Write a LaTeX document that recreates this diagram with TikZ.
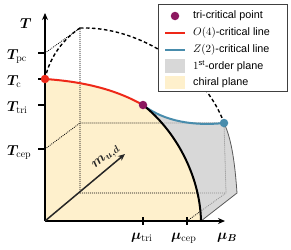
\documentclass[tikz,border=0pt]{standalone}
\usepackage{amsmath,amssymb,bm}
\usepackage{fontspec}
\newfontfamily\legendfont{Liberation Sans}
\usepackage{tikz}
\usetikzlibrary{arrows.meta, positioning, calc}
\definecolor{tricol}{RGB}{140,24,96}
\definecolor{ofourcol}{RGB}{238,40,24}
\definecolor{ztwocol}{RGB}{72,140,172}
\definecolor{firstcol}{RGB}{200,200,200}
\definecolor{chiralcol}{RGB}{254,240,204}
\tikzstyle{axis} = [line width=1.4pt, -{Stealth[length=7pt,width=6pt]}]
\tikzstyle{tick} = [line width=1.2pt]
\tikzstyle{guide} = [dash pattern=on 0.9pt off 1.1pt, line width=0.8pt]
\tikzstyle{crit} = [line width=2pt]
\tikzstyle{dashline} = [dash pattern=on 3.5pt off 2.5pt, line width=1.4pt]
\tikzstyle{edgeline} = [line width=0.8pt, draw=black!65]
\tikzstyle{dot} = [circle, inner sep=0pt, minimum size=8.5pt]
\tikzstyle{tlabel} = [anchor=base west, inner sep=0pt, font=\Large]
\tikzstyle{mulabel} = [anchor=base west, inner sep=0pt, font=\Large]
\tikzstyle{legtext} = [anchor=west, inner sep=0pt, font=\legendfont\fontsize{10.8}{12}\selectfont]
\tikzstyle{legbox} = [minimum width=20pt, minimum height=13.5pt, inner sep=0pt]

\begin{document}
\begin{tikzpicture}[x=1pt, y=-1pt]
\useasboundingbox (0,0) rectangle (291,249);
% points of the diagram
\coordinate (O) at (45,221);
\coordinate (Ttop) at (45,13);
\coordinate (Mend) at (225,221);
\coordinate (Tc) at (45,79);
\coordinate (tri) at (143,105);
\coordinate (cep) at (201,221);
\coordinate (zend) at (224,123);
\coordinate (edge) at (237,193);
\coordinate (btop) at (80,28);
\coordinate (bbot) at (80,193);
\coordinate (bcep) at (80,123);
\coordinate (bend) at (226,193);
\coordinate (Tpc) at (45,53);
\coordinate (Ttri) at (45,105);
\coordinate (Tcep) at (45,149);
\coordinate (mutri) at (143,221);
\coordinate (mucep) at (187,221);
\coordinate (mtip) at (125,154);

% planes
\fill [chiralcol] (O) -- (Tc) .. controls (90,82) and (120,92) .. (tri)
      .. controls (175,130) and (200,175) .. (cep) -- cycle;
\draw [guide] (Tpc) -- (btop) -- (bbot) -- (bend);
\draw [guide] (Tcep) -- (bcep) -- (zend) -- (bend);
\draw [guide] (mucep) -- (bend);
\fill [firstcol, fill opacity=0.7] (tri) .. controls (165,122) and (195,126) .. (zend)
      .. controls (232,140) and (235,165) .. (edge) -- (cep)
      .. controls (200,175) and (175,130) .. (tri);
\draw [edgeline] (zend) .. controls (232,140) and (235,165) .. (edge) -- (cep);

% crossover lines
\draw [dashline] (Tc) .. controls (50,55) and (65,38) .. (btop);
\draw [dashline] (btop) .. controls (140,26) and (205,70) .. (zend);

% critical lines
\draw [crit, ofourcol] (Tc) .. controls (90,82) and (120,92) .. (tri);
\draw [crit, ztwocol] (tri) .. controls (165,122) and (195,126) .. (zend);
\draw [crit, black] (tri) .. controls (175,130) and (200,175) .. (cep);

% axes
\draw [axis] (O) -- (Ttop);
\draw [axis] (O) -- (Mend);
\foreach \t in {Tpc, Tc, Ttri, Tcep}
    \draw [tick] (\t) -- ++(-7,0);
\foreach \m in {mutri, mucep}
    \draw [tick] ($(\m)+(0,-4)$) -- ++(0,8);
\draw [line width=1.5pt, black!85, -{Stealth[length=7pt,width=6pt]}] (O) -- node[sloped, above=3pt, pos=0.84, inner sep=0pt, font=\Large] (mlab) {$\boldsymbol{m_{u,d}}$} (mtip);

% points
\node (tcdot) [dot, fill=ofourcol] at (Tc) {};
\node (tridot) [dot, fill=tricol] at (tri) {};
\node (cepdot) [dot, fill=ztwocol] at (zend) {};

% labels
\node (Tlab) [tlabel] at (20,28) {$\boldsymbol{T}$};
\node (Tpclab) [tlabel] at (7,59) {$\boldsymbol{T}_{\mathrm{pc}}$};
\node (Tclab) [tlabel] at (7,85) {$\boldsymbol{T}_{\mathrm{c}}$};
\node (Ttrilab) [tlabel] at (7,111) {$\boldsymbol{T}_{\mathrm{tri}}$};
\node (Tceplab) [tlabel] at (7,155) {$\boldsymbol{T}_{\mathrm{cep}}$};
\node (mutrilab) [mulabel] at (131,239) {$\boldsymbol{\mu}_{\mathrm{tri}}$};
\node (muceplab) [mulabel] at (171,239) {$\boldsymbol{\mu}_{\mathrm{cep}}$};
\node (muBlab) [mulabel] at (217,239) {$\boldsymbol{\mu_B}$};

% legend
\draw [black!75, line width=0.6pt, fill=white] (158,4) rectangle (287,91);
\node (legtri) [dot, fill=tricol] at (175,16) {};
\coordinate (legO) at (165,33);
\coordinate (legZ) at (165,50);
\draw [crit, ofourcol] (legO) -- ++(20,0);
\draw [crit, ztwocol] (legZ) -- ++(20,0);
\node (legfirst) [legbox, fill=firstcol, fill opacity=0.7] at (175,66) {};
\node (legchiral) [legbox, fill=chiralcol] at (175,82.5) {};
\node (txttri) [legtext] at (193,16) {tri-critical point};
\node (txtO) [legtext] at (193,33) {$O(4)$-critical line};
\node (txtZ) [legtext] at (193,50) {$Z(2)$-critical line};
\node (txtfirst) [legtext] at (193,66) {$1$\textsuperscript{st}-order plane};
\node (txtchiral) [legtext] at (193,82.5) {chiral plane};
\end{tikzpicture}
\end{document}
